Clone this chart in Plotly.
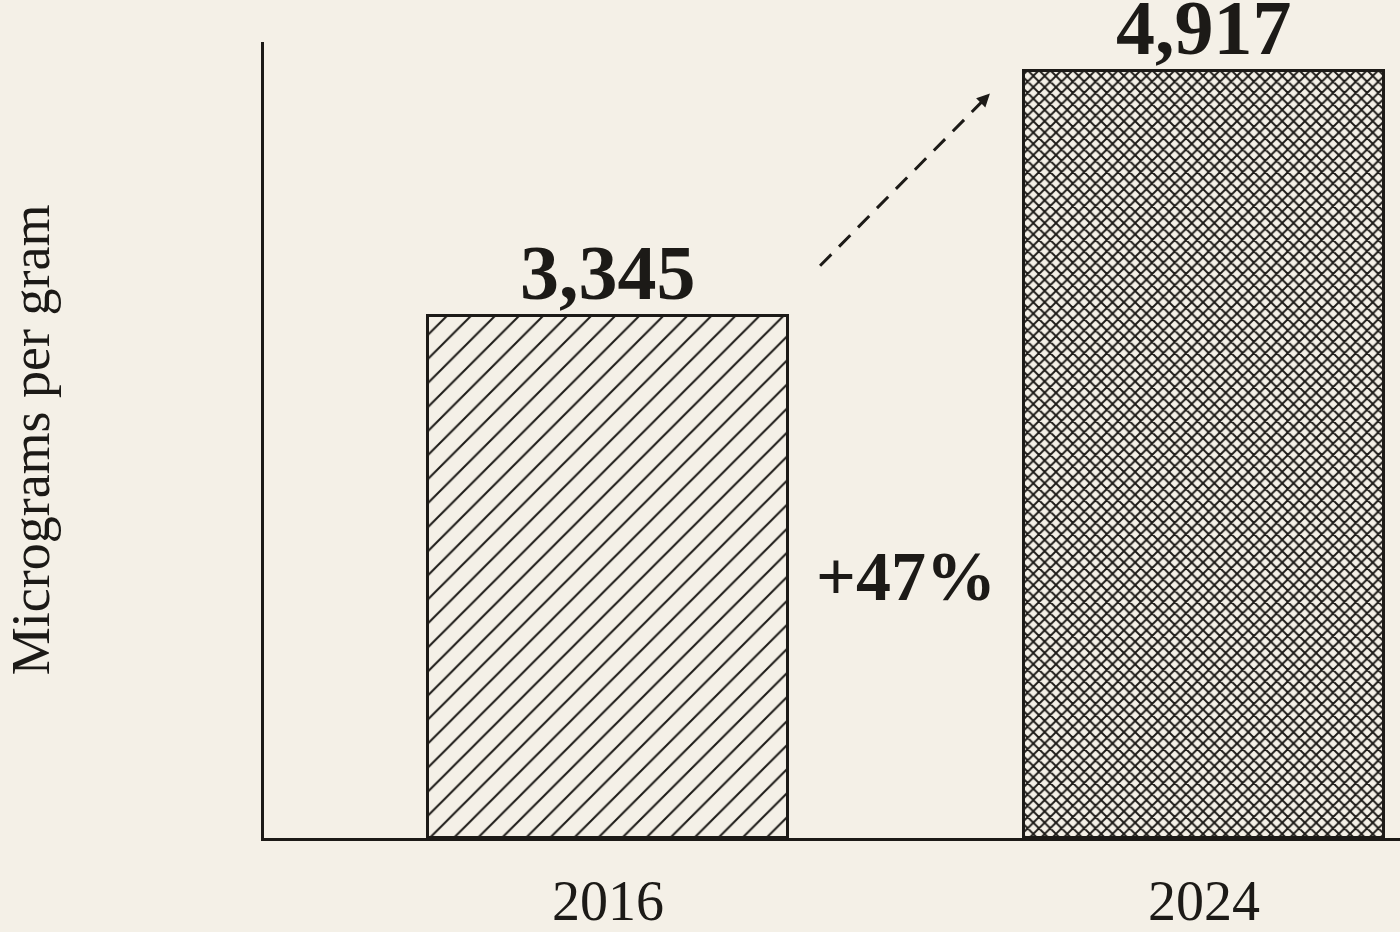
import plotly.graph_objects as go

# data
years = ["2016", "2024"]
values = [3345, 4917]
value_labels = ["3,345", "4,917"]
change_label = "+47%"
y_title = "Micrograms per gram"

bg = "#f4f0e7"
ink = "#1c1a17"
serif = "Liberation Serif, Times New Roman, serif"

xpos = [0, 1]

fig = go.Figure()

# one trace per bar so each gets its own hatch
hatches = [("/", 17, 0.12), ("x", 8, 0.42)]
for i in range(len(years)):
    shape, size, solid = hatches[i]
    fig.add_trace(go.Bar(
        x=[xpos[i]], y=[values[i]],
        width=0.604,
        marker=dict(
            color=bg,
            line=dict(color=ink, width=3),
            pattern=dict(shape=shape, size=size, solidity=solid,
                         fgcolor=ink, bgcolor=bg, fillmode="replace"),
        ),
        showlegend=False,
        hoverinfo="skip",
    ))
    # value on top of the bar
    fig.add_annotation(
        x=xpos[i], y=values[i], text="<b>" + value_labels[i] + "</b>",
        showarrow=False, yanchor="bottom", yshift=-2,
        font=dict(family=serif, size=78, color=ink),
    )

# percent change label
fig.add_annotation(
    x=0.5, y=values[0] * 0.5, text="<b>" + change_label + "</b>",
    showarrow=False, font=dict(family=serif, size=70, color=ink),
)

# y axis title, placed by hand near the left edge
fig.add_annotation(
    x=-0.233, y=0.5, xref="paper", yref="paper", text=y_title, textangle=-90,
    showarrow=False, font=dict(family=serif, size=54, color=ink),
)

# dashed arrow between the bars
x0, y0 = 0.356, values[0] * 1.096
x1, y1 = 0.641, values[1] * 0.97
fig.add_shape(type="line", x0=x0, y0=y0, x1=x1, y1=y1, xref="x", yref="y",
              line=dict(color=ink, width=3, dash="16px,11px"))
fig.add_annotation(x=x1, y=y1, ax=-9, ay=9, showarrow=True,
                   arrowhead=2, arrowsize=1.3, arrowwidth=2, arrowcolor=ink, text="")

fig.update_layout(
    width=1400, height=932,
    paper_bgcolor=bg, plot_bgcolor=bg,
    margin=dict(l=264, r=0, t=42, b=94),
    bargap=0,
)
fig.update_xaxes(
    range=[-0.577, 1.329], tickvals=xpos, ticktext=years,
    showgrid=False, zeroline=False, showline=True, linecolor=ink, linewidth=3,
    ticks="", ticklabelstandoff=12, automargin=False,
    tickfont=dict(family=serif, size=56, color=ink),
)
fig.update_yaxes(
    range=[0, 5100], showgrid=False, zeroline=False, showticklabels=False,
    showline=True, linecolor=ink, linewidth=3, ticks="", automargin=False,
)

fig.write_html(
    "out.html",
    config={"displayModeBar": False},
    post_script="document.body.style.margin='0';document.body.style.background='%s';" % bg,
)
